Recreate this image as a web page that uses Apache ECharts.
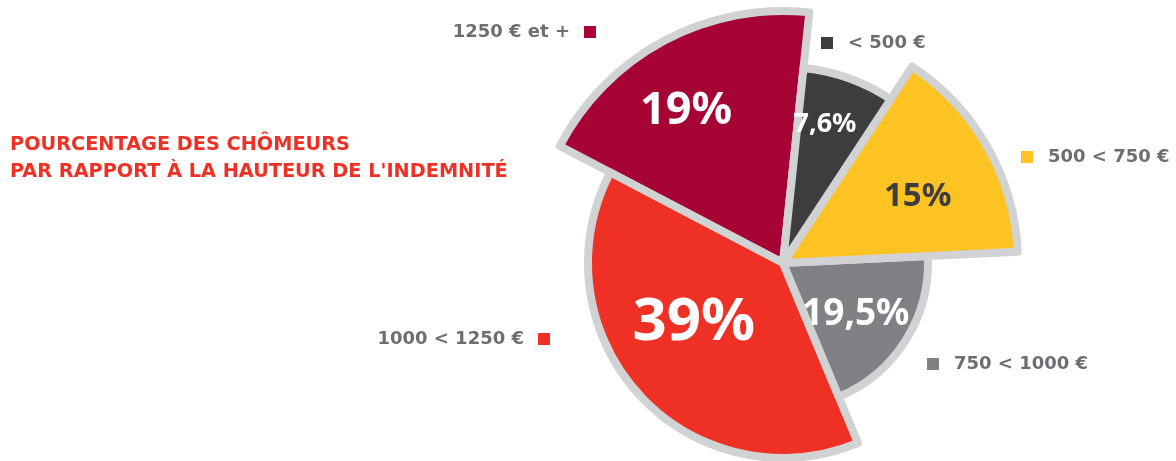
<!DOCTYPE html>
<html lang="fr">
<head>
    <meta charset="UTF-8">
    <title>Pourcentage des chômeurs</title>
    <style>
        html, body { margin: 0; padding: 0; background: #fff; }
        #main { width: 1176px; height: 461px; }
    </style>
</head>
<body>
    <div id="main"></div>
    <script src="https://cdn.jsdelivr.net/npm/echarts@6/dist/echarts.min.js"></script>
    <script type="text/javascript">
        // données
        var categories = ['< 500 €', '500 < 750 €', '750 < 1000 €', '1000 < 1250 €', '1250 € et +'];
        var shares = [7.6, 15, 19.5, 39, 19];

        // styles des parts
        var colors = ['#3d3d3e', '#fdc323', '#808184', '#ee3124', '#a70436'];
        var sliceRadius = [196, 235, 145, 195, 252];
        var labelSize = [27, 33, 37, 60, 45];
        var labelColor = ['#fff', '#3d3d3e', '#fff', '#fff', '#fff'];
        var labelOffset = [[8, -44], [30, -7], [9, 11], [-15, -8], [-36, -38]];
        var BORDER = '#d1d2d4';
        var CENTER = [783, 263];

        var myChart = echarts.init(document.getElementById('main'));

        var fmt = function (p) {
            return String(p.value).replace('.', ',') + '%';
        };

        // une série par part : même angle calculé par le pie, rayon propre
        var series = categories.map(function (cat, i) {
            return {
                type: 'pie',
                silent: true,
                center: CENTER,
                radius: [0, sliceRadius[i]],
                startAngle: 84,
                clockwise: true,
                avoidLabelOverlap: false,
                z: 10 - i,
                labelLine: { show: false },
                emphasis: { disabled: true },
                data: categories.map(function (c, j) {
                    if (j !== i) {
                        return {
                            name: c, value: shares[j],
                            itemStyle: { color: 'transparent', borderWidth: 0 },
                            label: { show: false }
                        };
                    }
                    return {
                        name: c, value: shares[j],
                        itemStyle: { color: colors[j], borderColor: BORDER, borderWidth: 8 },
                        label: {
                            show: true,
                            position: 'inside',
                            formatter: fmt,
                            color: labelColor[j],
                            fontSize: labelSize[j],
                            fontWeight: 'bold condensed',
                            fontFamily: "'Noto Sans', sans-serif",
                            offset: labelOffset[j]
                        }
                    };
                })
            };
        });

        var legendText = {
            color: '#6d6e71',
            fontSize: 18,
            fontWeight: 'bold',
            fontFamily: "'DejaVu Sans', sans-serif"
        };

        var mkLegend = function (i, pos, align) {
            var l = {
                data: [{ name: categories[i], itemStyle: { color: colors[i], borderWidth: 0 } }],
                selectedMode: false,
                icon: 'rect',
                itemWidth: 12,
                itemHeight: 12,
                padding: 0,
                align: align,
                itemStyle: { borderWidth: 0 },
                textStyle: Object.assign({}, legendText, {
                    padding: align === 'right' ? [0, 9, 0, 0] : [0, 0, 0, 10]
                })
            };
            return Object.assign(l, pos);
        };

        var option = {
            backgroundColor: '#fff',
            animation: false,
            title: {
                text: 'POURCENTAGE DES CHÔMEURS\nPAR RAPPORT À LA HAUTEUR DE L\'INDEMNITÉ',
                left: 10,
                top: 131,
                padding: 0,
                textStyle: {
                    color: '#ee3124',
                    fontSize: 19.3,
                    fontWeight: 'bold',
                    fontFamily: "'DejaVu Sans', sans-serif",
                    lineHeight: 27
                }
            },
            legend: [
                mkLegend(0, { left: 821, top: 34 }, 'left'),
                mkLegend(1, { left: 1021, top: 148 }, 'left'),
                mkLegend(2, { left: 927, top: 355 }, 'left'),
                mkLegend(3, { right: 626, top: 330 }, 'right'),
                mkLegend(4, { right: 580, top: 23 }, 'right')
            ],
            series: series
        };

        myChart.setOption(option);
    </script>
</body>
</html>
